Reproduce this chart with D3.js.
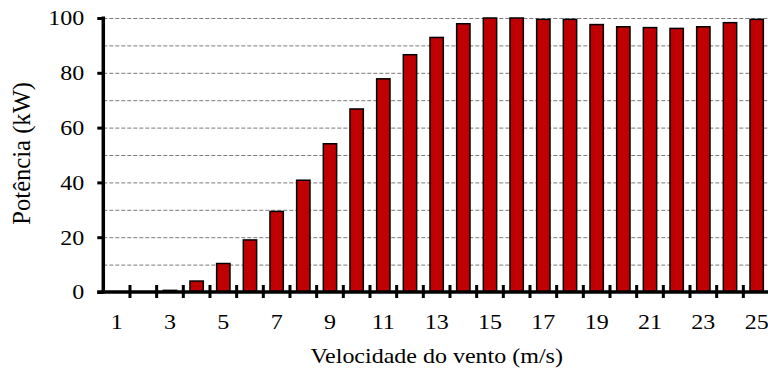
<!DOCTYPE html>
<html>
<head>
<meta charset="utf-8">
<script src="https://cdn.jsdelivr.net/npm/d3@7"></script>
<style>
html,body{margin:0;padding:0;background:#fff;overflow:hidden;}
svg{display:block;}
text{font-family:"Liberation Serif","Times New Roman",serif;fill:#000;}
</style>
</head>
<body>
<script>
const categories = [1,2,3,4,5,6,7,8,9,10,11,12,13,14,15,16,17,18,19,20,21,22,23,24,25];
const power = [0,0,0.6,4.0,10.4,19.0,29.4,40.8,54.1,66.8,77.8,86.6,92.9,97.9,100,100,99.5,99.5,97.6,96.8,96.5,96.2,96.8,98.3,99.5];
const yTicks = [0,20,40,60,80,100];
const gridValues = [10,20,30,40,50,60,70,80,90,100];
const xLabels = [1,3,5,7,9,11,13,15,17,19,21,23,25];

const W = 768, H = 372;
const pLeft = 103.3, pRight = 770, pTop = 18, pBottom = 292;
const fs = 24, vs = 0.84;

const svg = d3.select("body").append("svg").attr("width", W).attr("height", H);

const x = d3.scaleBand().domain(categories).range([pLeft, pRight]).padding(0);
const y = d3.scaleLinear().domain([0,100]).range([pBottom, pTop]);
const bw = x.bandwidth();

// gridlines
svg.append("g").selectAll("line").data(gridValues).join("line")
  .attr("x1", pLeft).attr("x2", W)
  .attr("y1", d => y(d) + 0.5).attr("y2", d => y(d) + 0.5)
  .attr("stroke", "#7a7a7a").attr("stroke-width", 1)
  .attr("stroke-dasharray", "4,2");

// bars
svg.append("g").selectAll("rect").data(categories).join("rect")
  .attr("x", (d) => x(d) + bw * 0.25)
  .attr("width", bw * 0.5)
  .attr("y", (d, i) => y(power[i]))
  .attr("height", (d, i) => y(0) - y(power[i]))
  .attr("fill", "#c00000")
  .attr("stroke", "#000")
  .attr("stroke-width", 1.5);

// y axis
const ya = svg.append("g").attr("transform", `translate(${pLeft},0)`)
  .call(d3.axisLeft(y).tickValues(yTicks).tickSize(6).tickPadding(13));
ya.select(".domain").remove();
ya.selectAll(".tick line").attr("stroke", "#000").attr("stroke-width", 3);
ya.selectAll(".tick text")
  .style("font-size", fs + "px")
  .attr("dy", null)
  .attr("y", 0)
  .attr("transform", `translate(0,${0.676 * fs * vs / 2}) scale(1,${vs})`);
svg.append("line").attr("x1", pLeft).attr("x2", pLeft).attr("y1", pTop - 1.5).attr("y2", pBottom + 1.5)
  .attr("stroke", "#000").attr("stroke-width", 3.5);

// x axis
svg.append("line").attr("x1", pLeft - 6).attr("x2", W).attr("y1", pBottom).attr("y2", pBottom)
  .attr("stroke", "#000").attr("stroke-width", 3.5);
svg.append("g").selectAll("line").data(categories).join("line")
  .attr("x1", d => x(d) + bw).attr("x2", d => x(d) + bw)
  .attr("y1", pBottom - 7).attr("y2", pBottom + 6)
  .attr("stroke", "#000").attr("stroke-width", 3);
svg.append("g").selectAll("text").data(xLabels).join("text")
  .attr("transform", d => `translate(${x(d) + bw / 2},328.5) scale(1,${vs})`)
  .attr("text-anchor", "middle")
  .style("font-size", fs + "px")
  .text(d => d);

// titles
svg.append("text")
  .attr("transform", `translate(${(pLeft + pRight) / 2},363.3) scale(1,${vs})`)
  .attr("text-anchor", "middle").style("font-size", fs + "px")
  .text("Velocidade do vento (m/s)");
svg.append("text").attr("transform", `translate(29.7,153.3) rotate(-90)`)
  .attr("text-anchor", "middle").style("font-size", "24.6px")
  .text("Potência (kW)");
</script>
</body>
</html>
